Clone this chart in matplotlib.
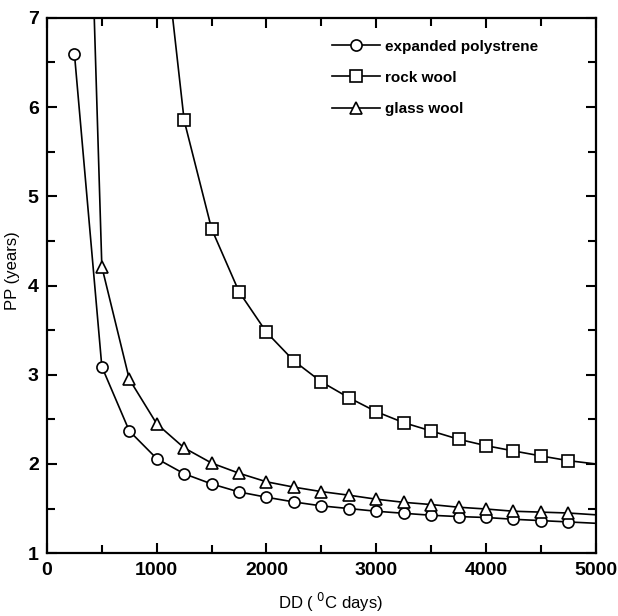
import matplotlib
matplotlib.use("Agg")
import matplotlib.pyplot as plt
from matplotlib.ticker import MultipleLocator

plt.rcParams['font.family'] = ['Liberation Sans', 'DejaVu Sans']

dd_eps = [250, 500, 750, 1000, 1250, 1500, 1750, 2000, 2250, 2500, 2750, 3000,
          3250, 3500, 3750, 4000, 4250, 4500, 4750, 5000]
pp_eps = [6.60, 3.09, 2.37, 2.06, 1.89, 1.776, 1.686, 1.627, 1.574, 1.53, 1.50, 1.47,
          1.447, 1.425, 1.41, 1.40, 1.38, 1.365, 1.35, 1.335]

dd_rock = [1000, 1250, 1500, 1750, 2000, 2250, 2500, 2750, 3000,
           3250, 3500, 3750, 4000, 4250, 4500, 4750, 5000]
pp_rock = [8.6, 5.85, 4.635, 3.93, 3.476, 3.155, 2.92, 2.743, 2.586,
           2.463, 2.37, 2.277, 2.205, 2.146, 2.09, 2.037, 2.0]

dd_glass = [250, 500, 750, 1000, 1250, 1500, 1750, 2000, 2250, 2500, 2750, 3000,
            3250, 3500, 3750, 4000, 4250, 4500, 4750, 5000]
pp_glass = [14.3, 4.21, 2.95, 2.45, 2.18, 2.01, 1.896, 1.80, 1.74, 1.69, 1.65, 1.605,
            1.57, 1.545, 1.515, 1.495, 1.47, 1.46, 1.45, 1.43]

fig = plt.figure(figsize=(6.18, 6.16), dpi=100)
ax = fig.add_axes([0.076, 0.102, 0.888, 0.869])

common = dict(color='black', lw=1.2, mfc='white', mec='black', mew=1.2,
              markevery=slice(0, -1))
ax.plot(dd_eps, pp_eps, marker='o', ms=8, label='expanded polystrene', **common)
ax.plot(dd_rock, pp_rock, marker='s', ms=9, label='rock wool', **common)
ax.plot(dd_glass, pp_glass, marker='^', ms=9, label='glass wool', **common)

ax.set_xlim(0, 5000)
ax.set_ylim(1, 7)
ax.xaxis.set_major_locator(MultipleLocator(1000))
ax.xaxis.set_minor_locator(MultipleLocator(500))
ax.yaxis.set_major_locator(MultipleLocator(1))
ax.yaxis.set_minor_locator(MultipleLocator(0.5))
ax.tick_params(which='both', direction='in', top=True, right=True, width=1.5)
ax.tick_params(which='major', length=7, labelsize=14, pad=6)
ax.tick_params(which='minor', length=6)
for lab in ax.get_xticklabels() + ax.get_yticklabels():
    lab.set_fontweight('bold')
for s in ax.spines.values():
    s.set_linewidth(1.6)

ax.set_xlabel(r'DD ( $^{0}$C days)', fontsize=12)
ax.set_ylabel('PP (years)', fontsize=12)
ax.xaxis.set_label_coords(0.517, -0.071)
ax.yaxis.set_label_coords(-0.050, 0.527)

leg = ax.legend(loc='upper right', frameon=False, prop={'weight': 'bold', 'size': 11},
                handlelength=3.2, handletextpad=0.3, labelspacing=1.12,
                bbox_to_anchor=(0.92, 0.985))

fig.savefig('out.png', dpi=100)
